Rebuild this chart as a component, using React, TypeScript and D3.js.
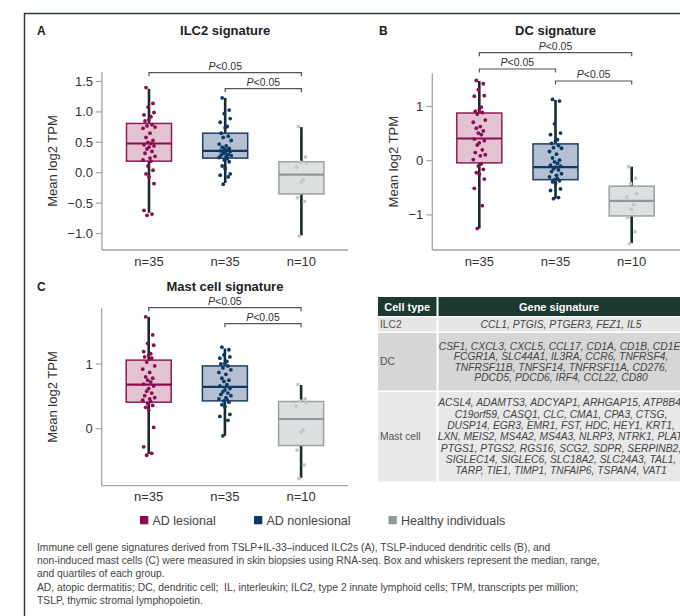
import React from 'react';
import * as d3 from 'd3';

// ---------- DATA ----------
const groups = ['AD lesional', 'AD nonlesional', 'Healthy individuals'];
const groupN = ['n=35', 'n=35', 'n=10'];

// box stats per group: [min, q1, median, q3, max]
const ilc2Box = [
  [-0.66, 0.19, 0.48, 0.81, 1.38],
  [-0.17, 0.24, 0.36, 0.65, 1.23],
  [-1.03, -0.35, -0.03, 0.18, 0.75],
];
const dcBox = [
  [-1.25, -0.04, 0.41, 0.88, 1.47],
  [-0.70, -0.35, -0.12, 0.31, 1.12],
  [-1.52, -1.02, -0.74, -0.47, -0.11],
];
const mastBox = [
  [-0.39, 0.41, 0.68, 1.06, 1.73],
  [-0.11, 0.43, 0.645, 0.97, 1.24],
  [-0.76, -0.26, 0.15, 0.42, 0.675],
];

const ilc2Lesional = [1.40, 1.14, 1.08, 0.99, 0.95, 0.92, 0.87, 0.85, 0.79, 0.77, 0.75, 0.73, 0.65, 0.58, 0.53, 0.50, 0.48, 0.46, 0.44, 0.42, 0.39, 0.35, 0.32, 0.27, 0.24, 0.21, 0.19, 0.11, 0.04, -0.02, -0.07, -0.18, -0.62, -0.68, -0.70];
const ilc2Nonlesional = [1.23, 1.03, 0.97, 0.89, 0.83, 0.76, 0.74, 0.65, 0.60, 0.58, 0.53, 0.47, 0.44, 0.42, 0.40, 0.39, 0.37, 0.36, 0.35, 0.33, 0.32, 0.30, 0.29, 0.28, 0.27, 0.25, 0.23, 0.21, 0.18, 0.11, 0.07, -0.02, -0.04, -0.07, -0.19];
const ilc2Healthy = [0.76, 0.26, 0.17, 0.15, 0.09, -0.11, -0.15, -0.41, -0.47, -1.04];

const dcLesional = [1.48, 1.42, 1.31, 1.20, 1.19, 0.99, 0.94, 0.91, 0.89, 0.86, 0.75, 0.71, 0.63, 0.60, 0.55, 0.51, 0.48, 0.40, 0.37, 0.33, 0.29, 0.20, 0.15, 0.11, 0.09, 0.02, -0.06, -0.10, -0.16, -0.22, -0.25, -0.34, -0.51, -0.83, -1.25];
const dcNonlesional = [1.13, 1.10, 0.68, 0.51, 0.48, 0.39, 0.36, 0.32, 0.28, 0.24, 0.23, 0.17, 0.12, 0.05, 0.01, -0.02, -0.05, -0.08, -0.10, -0.12, -0.15, -0.17, -0.20, -0.24, -0.27, -0.30, -0.33, -0.35, -0.37, -0.39, -0.42, -0.52, -0.55, -0.68, -0.70];
const dcHealthy = [-0.11, -0.32, -0.42, -0.61, -0.67, -0.81, -0.90, -1.05, -1.31, -1.53];

const mastLesional = [1.73, 1.45, 1.32, 1.29, 1.19, 1.16, 1.14, 1.11, 1.09, 1.03, 0.97, 0.92, 0.87, 0.80, 0.78, 0.75, 0.72, 0.69, 0.66, 0.62, 0.58, 0.55, 0.51, 0.48, 0.46, 0.44, 0.42, 0.39, 0.36, 0.33, 0.29, 0.02, -0.28, -0.38, -0.41];
const mastNonlesional = [1.26, 1.22, 1.14, 1.11, 1.09, 1.04, 1.01, 1.00, 0.97, 0.94, 0.91, 0.87, 0.84, 0.78, 0.75, 0.73, 0.68, 0.66, 0.62, 0.60, 0.57, 0.55, 0.53, 0.51, 0.48, 0.46, 0.45, 0.43, 0.41, 0.37, 0.34, 0.22, 0.19, 0.13, -0.11];
const mastHealthy = [0.68, 0.46, 0.43, 0.40, 0.35, -0.02, -0.05, -0.33, -0.56, -0.77];

// fixed horizontal jitter offsets (px) for the dots
const jitter = [-3, 4, -1, 5, -5, 2, 0, -4, 3, -2, 6, -6, 1, -3, 4, -1, 2, -5, 5, 0, -2, 3, -4, 6, 1, -6, 2, -1, 4, -3, 0, 5, -5, 3, -2];

const ilc2Ticks = [-1, -0.5, 0, 0.5, 1, 1.5];
const dcTicks = [-1, 0, 1];
const mastTicks = [0, 1];

const pLabel = 'P<0.05';

const tableHeader = ['Cell type', 'Gene signature'];
const cellTypes = ['ILC2', 'DC', 'Mast cell'];
const ilc2Genes = ['CCL1, PTGIS, PTGER3, FEZ1, IL5'];
const dcGenes = [
  'CSF1, CXCL3, CXCL5, CCL17, CD1A, CD1B, CD1E,',
  'FCGR1A, SLC44A1, IL3RA, CCR6, TNFRSF4,',
  'TNFRSF11B, TNFSF14, TNFRSF11A, CD276,',
  'PDCD5, PDCD6, IRF4, CCL22, CD80',
];
const mastGenes = [
  'ACSL4, ADAMTS3, ADCYAP1, ARHGAP15, ATP8B4,',
  'C19orf59, CASQ1, CLC, CMA1, CPA3, CTSG,',
  'DUSP14, EGR3, EMR1, FST, HDC, HEY1, KRT1,',
  'LXN, MEIS2, MS4A2, MS4A3, NLRP3, NTRK1, PLAT,',
  'PTGS1, PTGS2, RGS16, SCG2, SDPR, SERPINB2,',
  'SIGLEC14, SIGLEC6, SLC18A2, SLC24A3, TAL1,',
  'TARP, TIE1, TIMP1, TNFAIP6, TSPAN4, VAT1',
];

const captionLines = [
  'Immune cell gene signatures derived from TSLP+IL-33\u2013induced ILC2s (A), TSLP-induced dendritic cells (B), and',
  'non-induced mast cells (C) were measured in skin biopsies using RNA-seq. Box and whiskers represent the median, range,',
  'and quartiles of each group.',
  'AD, atopic dermatitis; DC, dendritic cell;  IL, interleukin; ILC2, type 2 innate lymphoid cells; TPM, transcripts per million;',
  'TSLP, thymic stromal lymphopoietin.',
];

// ---------- STYLE ----------
const FONT = '"Liberation Sans", Arial, Helvetica, sans-serif';
const dotColor = ['#8a0d52', '#0b3a63', '#c2c7c7'];
const boxFill = ['#e3c3d2', '#b4bfd2', '#dde0e0'];
const boxStroke = ['#8b1d58', '#1d3f66', '#9aa1a1'];
const medianColor = ['#8b0d52', '#0d3a63', '#8f9898'];
const legendColor = ['#8a0d52', '#0b3a63', '#8e9999'];
const whiskerColor = '#1b2a2a';
const axisColor = '#a3a3a3';

type Bracket = { from: number; to: number; y: number };
type PanelCfg = {
  letter: string;
  title: string;
  letterX: number;
  titleY: number;
  left: number;
  right: number;
  top: number;
  bottom: number;
  domain: [number, number];
  ticks: number[];
  fmt: (v: number) => string;
  ylabelX: number;
  box: number[][];
  points: number[][];
  brackets: Bracket[];
};

const fmt1 = (v: number) => d3.format('.1f')(v).replace('-', '\u2212');
const fmt0 = (v: number) => d3.format('d')(v).replace('-', '\u2212');

const panels: PanelCfg[] = [
  {
    letter: 'A', title: 'ILC2 signature', letterX: 37, titleY: 34.5,
    left: 102, right: 348, top: 72, bottom: 250,
    domain: [-1.271, 1.656], ticks: ilc2Ticks, fmt: fmt1, ylabelX: 52.5,
    box: ilc2Box, points: [ilc2Lesional, ilc2Nonlesional, ilc2Healthy],
    brackets: [{ from: 0, to: 2, y: 72.7 }, { from: 1, to: 2, y: 88.7 }],
  },
  {
    letter: 'B', title: 'DC signature', letterX: 379, titleY: 34.5,
    left: 432.3, right: 680, top: 73.3, bottom: 250,
    domain: [-1.648, 1.613], ticks: dcTicks, fmt: fmt0, ylabelX: 393.5,
    box: dcBox, points: [dcLesional, dcNonlesional, dcHealthy],
    brackets: [{ from: 0, to: 2, y: 52.7 }, { from: 0, to: 1, y: 69 }, { from: 1, to: 2, y: 81 }],
  },
  {
    letter: 'C', title: 'Mast cell signature', letterX: 37, titleY: 290.5,
    left: 101.7, right: 348, top: 308.3, bottom: 485.7,
    domain: [-0.881, 1.861], ticks: mastTicks, fmt: fmt0, ylabelX: 52.5,
    box: mastBox, points: [mastLesional, mastNonlesional, mastHealthy],
    brackets: [{ from: 0, to: 2, y: 307.7 }, { from: 1, to: 2, y: 323.7 }],
  },
];

function Panel({ cfg }: { cfg: PanelCfg }) {
  const y = d3.scaleLinear().domain(cfg.domain).range([cfg.bottom, cfg.top]);
  const x = d3.scalePoint<string>().domain(groups).range([cfg.left + 47, cfg.left + 47 + 152.4]);
  const bw = 45;
  const cx = (i: number) => x(groups[i]) as number;
  const titleX = cx(1);
  return (
    <g fontFamily={FONT}>
      <text x={cfg.letterX} y={cfg.titleY} fontSize={12} fontWeight="bold" fill="#222">{cfg.letter}</text>
      <text x={titleX} y={cfg.titleY} fontSize={13} fontWeight="bold" fill="#222" textAnchor="middle">{cfg.title}</text>
      {/* axes */}
      <line x1={cfg.left} x2={cfg.left} y1={cfg.top} y2={cfg.bottom} stroke={axisColor} strokeWidth={1.3} />
      <line x1={cfg.left} x2={cfg.right} y1={cfg.bottom} y2={cfg.bottom} stroke={axisColor} strokeWidth={1.3} />
      {cfg.ticks.map((t) => (
        <g key={t}>
          <line x1={cfg.left - 6} x2={cfg.left} y1={y(t)} y2={y(t)} stroke={axisColor} strokeWidth={1.2} />
          <text x={cfg.left - 9} y={y(t)} dy="0.35em" fontSize={13} fill="#333" textAnchor="end">{cfg.fmt(t)}</text>
        </g>
      ))}
      <text
        transform={`translate(${cfg.ylabelX},${(cfg.top + cfg.bottom) / 2}) rotate(-90)`}
        fontSize={13} fill="#333" textAnchor="middle" dy="0.35em"
      >Mean log2 TPM</text>
      {groups.map((g, i) => (
        <text key={g} x={cx(i)} y={cfg.bottom + 15.5} fontSize={13} fill="#333" textAnchor="middle">{groupN[i]}</text>
      ))}
      {/* boxes */}
      {cfg.box.map((b, i) => {
        const [mn, q1, md, q3, mx] = b;
        return (
          <g key={i}>
            <line x1={cx(i)} x2={cx(i)} y1={y(mn)} y2={y(mx)} stroke={whiskerColor} strokeWidth={2.6} />
            <rect x={cx(i) - bw / 2} y={y(q3)} width={bw} height={y(q1) - y(q3)} fill={boxFill[i]} stroke={boxStroke[i]} strokeWidth={1.5} />
            <line x1={cx(i) - bw / 2} x2={cx(i) + bw / 2} y1={y(md)} y2={y(md)} stroke={medianColor[i]} strokeWidth={2.2} />
          </g>
        );
      })}
      {cfg.points.map((pts, i) => (
        <g key={i}>
          {pts.map((v, j) => (
            <circle key={j} cx={cx(i) + jitter[j % jitter.length]} cy={y(v)} r={1.9} fill={dotColor[i]} />
          ))}
        </g>
      ))}
      {/* brackets */}
      {cfg.brackets.map((br, k) => {
        const x1 = cx(br.from);
        const x2 = cx(br.to);
        return (
          <g key={k}>
            <path d={`M${x1},${br.y + 3.5}V${br.y}H${x2}V${br.y + 3.5}`} fill="none" stroke="#555" strokeWidth={1.2} />
            <text x={(x1 + x2) / 2} y={br.y - 3.2} fontSize={10.5} fill="#333" textAnchor="middle">
              <tspan fontStyle="italic">{pLabel[0]}</tspan>{pLabel.slice(1)}
            </text>
          </g>
        );
      })}
    </g>
  );
}

function Table() {
  const x0 = 378;
  const c1 = 436.5;
  const c2 = 438.5;
  const x1 = 686;
  const rows = [
    { top: 317.5, bottom: 331.5, fill: '#e6e6e6', lines: ilc2Genes, lh: 10.5 },
    { top: 333, bottom: 390.5, fill: '#d6d6d6', lines: dcGenes, lh: 10.4 },
    { top: 392, bottom: 481.5, fill: '#e8e8e8', lines: mastGenes, lh: 11.3 },
  ];
  const textCx = 561;
  return (
    <g fontFamily={FONT}>
      <rect x={x0} y={297} width={c1 - x0} height={19} fill="#1e3832" />
      <rect x={c2} y={297} width={x1 - c2} height={19} fill="#1e3832" />
      <text x={(x0 + c1) / 2} y={306.7} dy="0.35em" fontSize={11} fontWeight="bold" fill="#fff" textAnchor="middle">{tableHeader[0]}</text>
      <text x={textCx - 2} y={306.7} dy="0.35em" fontSize={11} fontWeight="bold" fill="#fff" textAnchor="middle">{tableHeader[1]}</text>
      {rows.map((r, i) => {
        const mid = (r.top + r.bottom) / 2;
        const n = r.lines.length;
        return (
          <g key={i}>
            <rect x={x0} y={r.top} width={c1 - x0} height={r.bottom - r.top} fill={r.fill} />
            <rect x={c2} y={r.top} width={x1 - c2} height={r.bottom - r.top} fill={r.fill} />
            <text x={x0 + 2} y={mid} dy="0.35em" fontSize={10.3} fill="#555">{cellTypes[i]}</text>
            {r.lines.map((l, j) => (
              <text key={j} x={textCx} y={mid + (j - (n - 1) / 2) * r.lh} dy="0.35em" fontSize={10.3} fontStyle="italic" fill="#444" textAnchor="middle">{l}</text>
            ))}
          </g>
        );
      })}
    </g>
  );
}

function Legend() {
  const xs = [140, 254, 388.5];
  return (
    <g fontFamily={FONT}>
      {groups.map((g, i) => (
        <g key={g}>
          <rect x={xs[i]} y={516} width={8.3} height={8.3} fill={legendColor[i]} />
          <text x={xs[i] + 12.5} y={524.5} fontSize={12.5} fill="#444">{g}</text>
        </g>
      ))}
    </g>
  );
}

function Caption() {
  return (
    <g fontFamily={FONT}>
      {captionLines.map((l, i) => (
        <text key={i} x={37} y={550.5 + i * 13.4} fontSize={10.3} fill="#444" style={{ whiteSpace: 'pre' }}>{l}</text>
      ))}
    </g>
  );
}

export default function App() {
  return (
    <svg width={680} height={616} style={{ position: 'absolute', left: 0, top: 0, background: '#fff' }}>
      <rect x={0} y={0} width={680} height={616} fill="#fff" />
      <path d="M24.5,616V13.5H680" fill="none" stroke="#2b3b38" strokeWidth={1.5} />
      {panels.map((p) => <Panel key={p.letter} cfg={p} />)}
      <Table />
      <Legend />
      <Caption />
    </svg>
  );
}
